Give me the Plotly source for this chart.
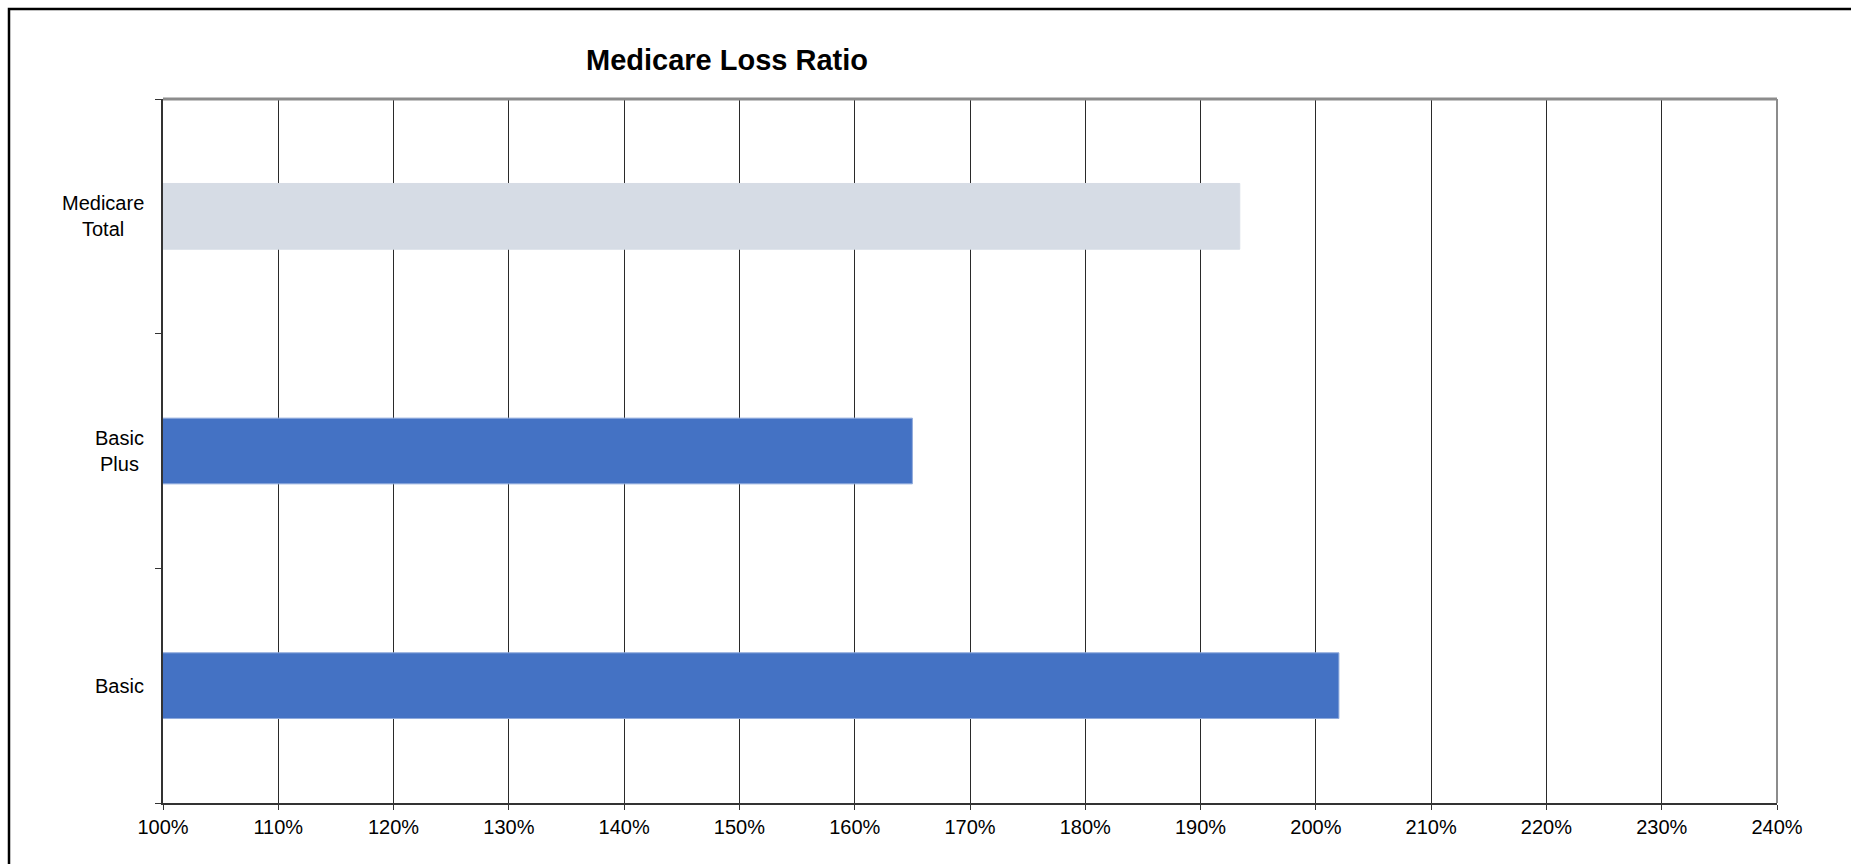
import plotly.graph_objects as go

# Loss ratios by plan (1.00 = 100%)
categories = ["Basic", "Basic Plus", "Medicare Total"]
loss_ratio = [2.02, 1.65, 1.934]
bar_colors = ["#4472C4", "#4472C4", "#D6DCE5"]
edge_colors = ["#8FAADC", "#8FAADC", "#D6DCE5"]
axis_labels = ["Basic", "Basic<br>Plus", "Medicare<br>Total"]
tick_values = [1.0 + 0.1 * i for i in range(15)]

W, H = 1851, 864
L, R, T, B = 163, 74, 99, 61
pw, ph = W - L - R, H - T - B

fig = go.Figure(
    go.Bar(
        y=categories,
        x=loss_ratio,
        orientation="h",
        width=0.28,
        marker=dict(color=bar_colors, line=dict(color=edge_colors, width=1)),
        hoverinfo="x+y",
    )
)

font = "Liberation Sans, Arial, sans-serif"

fig.update_layout(
    width=W,
    height=H,
    margin=dict(l=L, r=R, t=T, b=B, pad=0),
    paper_bgcolor="white",
    plot_bgcolor="white",
    showlegend=False,
    font=dict(family=font, size=20, color="black"),
    title=dict(
        text="<b>Medicare Loss Ratio</b>",
        font=dict(family=font, size=29, color="black"),
        xref="container", x=727 / W, xanchor="center",
        yref="container", y=1 - 60 / H, yanchor="middle",
    ),
)

fig.update_xaxes(
    range=[1.0, 2.4],
    tickvals=tick_values,
    tickformat=".0%",
    showgrid=True,
    gridcolor="#2a2a2a",
    gridwidth=1,
    showline=True,
    linecolor="#333333",
    linewidth=2,
    ticks="outside",
    ticklen=5,
    tickcolor="#333333",
    tickfont=dict(family=font, size=20, color="black"),
    zeroline=False,
    fixedrange=True,
)

fig.update_yaxes(
    type="category",
    categoryorder="array",
    categoryarray=categories,
    range=[-0.5, 2.5],
    showticklabels=False,
    showgrid=False,
    showline=True,
    linecolor="#333333",
    linewidth=2,
    ticks="outside",
    tickson="boundaries",
    ticklen=6,
    tickcolor="#333333",
    zeroline=False,
    fixedrange=True,
)

# Category labels, centred line by line to the left of the axis
for cat, label in zip(categories, axis_labels):
    fig.add_annotation(
        x=0, xref="paper", xanchor="right", xshift=-17,
        y=cat, yref="y", yanchor="middle",
        text=label, align="center", showarrow=False,
        font=dict(family=font, size=20, color="black"),
    )

# Top and right edges of the plot frame
fig.add_shape(type="line", xref="paper", yref="paper", x0=0, x1=1, y0=1, y1=1,
              line=dict(color="#8c8c8c", width=3))
fig.add_shape(type="line", xref="paper", yref="paper", x0=1, x1=1, y0=0, y1=1,
              line=dict(color="#8c8c8c", width=2))

# Outer chart border
fig.add_shape(
    type="rect", xref="paper", yref="paper",
    x0=(9 - L) / pw, x1=(W + 20 - L) / pw,
    y0=-(B + 20) / ph, y1=(H - 9 - B) / ph,
    line=dict(color="black", width=2.5), fillcolor="rgba(0,0,0,0)",
)

fig.write_html("out.html")
